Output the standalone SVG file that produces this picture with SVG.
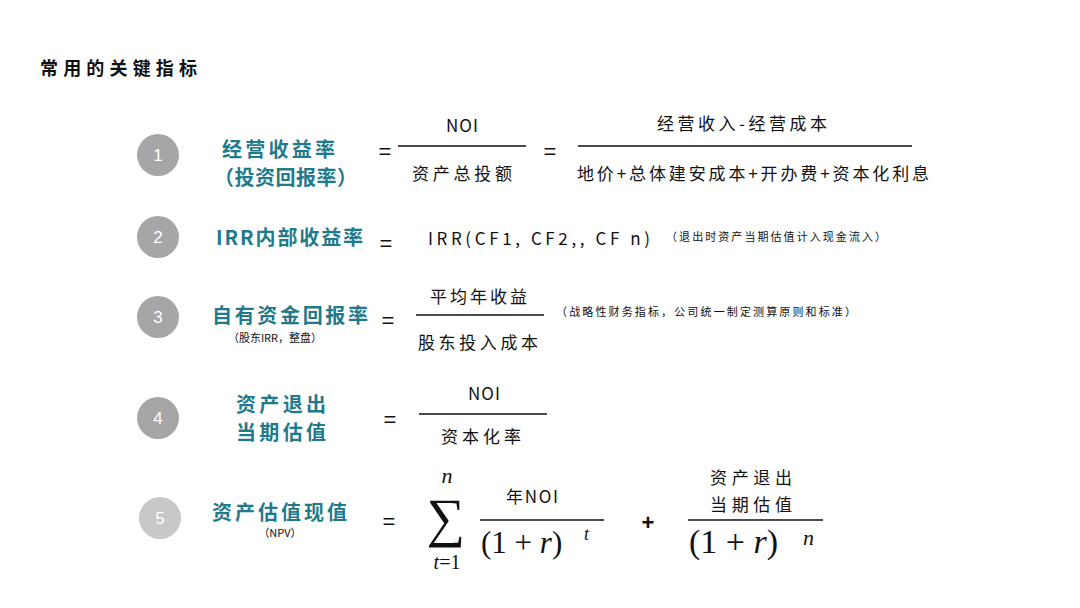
<svg xmlns="http://www.w3.org/2000/svg" width="1080" height="608" viewBox="0 0 1080 608">
<style>
.t{font-family:"Noto Sans CJK SC","Liberation Sans",sans-serif;fill:#1f7a8c;font-size:20px;font-weight:bold}
.k{font-family:"Noto Sans CJK SC","Liberation Sans",sans-serif;fill:#111;font-size:17px}
.s{font-family:"Noto Sans CJK SC","Liberation Sans",sans-serif;fill:#111;font-size:11px}
.n{font-family:"Liberation Sans",sans-serif;fill:#fff;font-size:17px;text-anchor:middle}
.m{font-family:"Liberation Serif",serif;fill:#111}
.eq{font-family:"Liberation Sans",sans-serif;fill:#111;font-size:22px;text-anchor:middle}
.c{text-anchor:middle}
line{stroke:#111;stroke-width:1.3}
</style>
<rect width="1080" height="608" fill="#fff"/>
<text x="40" y="75" font-family="Noto Sans CJK SC,sans-serif" font-size="18" font-weight="bold" fill="#111" textLength="157" lengthAdjust="spacing">常用的关键指标</text>
<g id="n1"><circle cx="158" cy="155" r="21" fill="#a6a6a6"/><text class="n" x="158" y="161">1</text>
<text class="t" x="222" y="157" textLength="113" lengthAdjust="spacing">经营收益率</text><text class="t" x="214" y="185" textLength="143" lengthAdjust="spacing">（投资回报率）</text>
<text class="eq" x="385" y="159">=</text>
<text class="k" x="446" y="132" textLength="32" lengthAdjust="spacing">NOI</text><line x1="398" y1="146" x2="526" y2="146"/><text class="k" x="412" y="180" textLength="100" lengthAdjust="spacing">资产总投额</text>
<text class="eq" x="550" y="159">=</text>
<text class="k" x="657" y="130" textLength="170" lengthAdjust="spacing">经营收入-经营成本</text><line x1="578" y1="146" x2="912" y2="146"/><text class="k" x="577" y="180" textLength="352" lengthAdjust="spacing">地价+总体建安成本+开办费+资本化利息</text></g>
<g id="n2"><circle cx="158" cy="237" r="21" fill="#a6a6a6"/><text class="n" x="158" y="243">2</text>
<text class="t" x="216" y="245" textLength="147" lengthAdjust="spacing">IRR内部收益率</text>
<text class="eq" x="386" y="251">=</text>
<text class="k" x="428" y="245" font-size="19" textLength="222" lengthAdjust="spacing">IRR(CF1, CF2,, CF n)</text>
<text class="s" x="666" y="241" textLength="220" lengthAdjust="spacing">（退出时资产当期估值计入现金流入）</text></g>
<g id="n3"><circle cx="158" cy="317" r="21" fill="#a6a6a6"/><text class="n" x="158" y="323">3</text>
<text class="t" x="212" y="323" textLength="156" lengthAdjust="spacing">自有资金回报率</text><text class="s c" x="275" y="342">（股东IRR，整盘）</text>
<text class="eq" x="388" y="328">=</text>
<text class="k" x="430" y="303" textLength="97" lengthAdjust="spacing">平均年收益</text><line x1="416" y1="315" x2="544" y2="315"/><text class="k" x="418" y="349" textLength="120" lengthAdjust="spacing">股东投入成本</text>
<text class="s" x="556" y="316" textLength="300" lengthAdjust="spacing">（战略性财务指标，公司统一制定测算原则和标准）</text></g>
<g id="n4"><circle cx="158" cy="418" r="21" fill="#a6a6a6"/><text class="n" x="158" y="424">4</text>
<text class="t" x="236" y="412" textLength="90" lengthAdjust="spacing">资产退出</text><text class="t" x="236" y="440" textLength="90" lengthAdjust="spacing">当期估值</text>
<text class="eq" x="390" y="427">=</text>
<text class="k" x="468" y="400" textLength="32" lengthAdjust="spacing">NOI</text><line x1="419" y1="414" x2="547" y2="414"/><text class="k" x="441" y="443" font-size="16" textLength="80" lengthAdjust="spacing">资本化率</text></g>
<g id="n5"><circle cx="160" cy="518" r="21" fill="#c8c8c8"/><text class="n" x="160" y="524">5</text>
<text class="t" x="212" y="520" textLength="135" lengthAdjust="spacing">资产估值现值</text><text class="s c" x="280" y="537" font-size="10">（NPV）</text>
<text class="eq" x="389" y="529">=</text>
<text class="m" x="447" y="483" font-size="22" font-style="italic" text-anchor="middle">n</text>
<text class="m" x="446" y="536" font-size="54" text-anchor="middle">∑</text>
<text class="m" x="447" y="569" font-size="20" text-anchor="middle"><tspan font-style="italic">t</tspan>=1</text>
<text class="k" x="506" y="503" textLength="52" lengthAdjust="spacing">年NOI</text><line x1="480" y1="520" x2="604" y2="520"/>
<text class="m" x="481" y="553" font-size="31">(1 + <tspan font-style="italic">r</tspan>)</text><text class="m" x="584" y="540" font-size="18" font-style="italic">t</text>
<text class="eq" x="648" y="530" font-weight="bold">+</text>
<text class="k" x="710" y="484" textLength="82" lengthAdjust="spacing">资产退出</text><text class="k" x="710" y="511" textLength="82" lengthAdjust="spacing">当期估值</text><line x1="688" y1="520" x2="823" y2="520"/>
<text class="m" x="689" y="553" font-size="34">(1 + <tspan font-style="italic">r</tspan>)</text><text class="m" x="803" y="545" font-size="22" font-style="italic">n</text></g>
</svg>
